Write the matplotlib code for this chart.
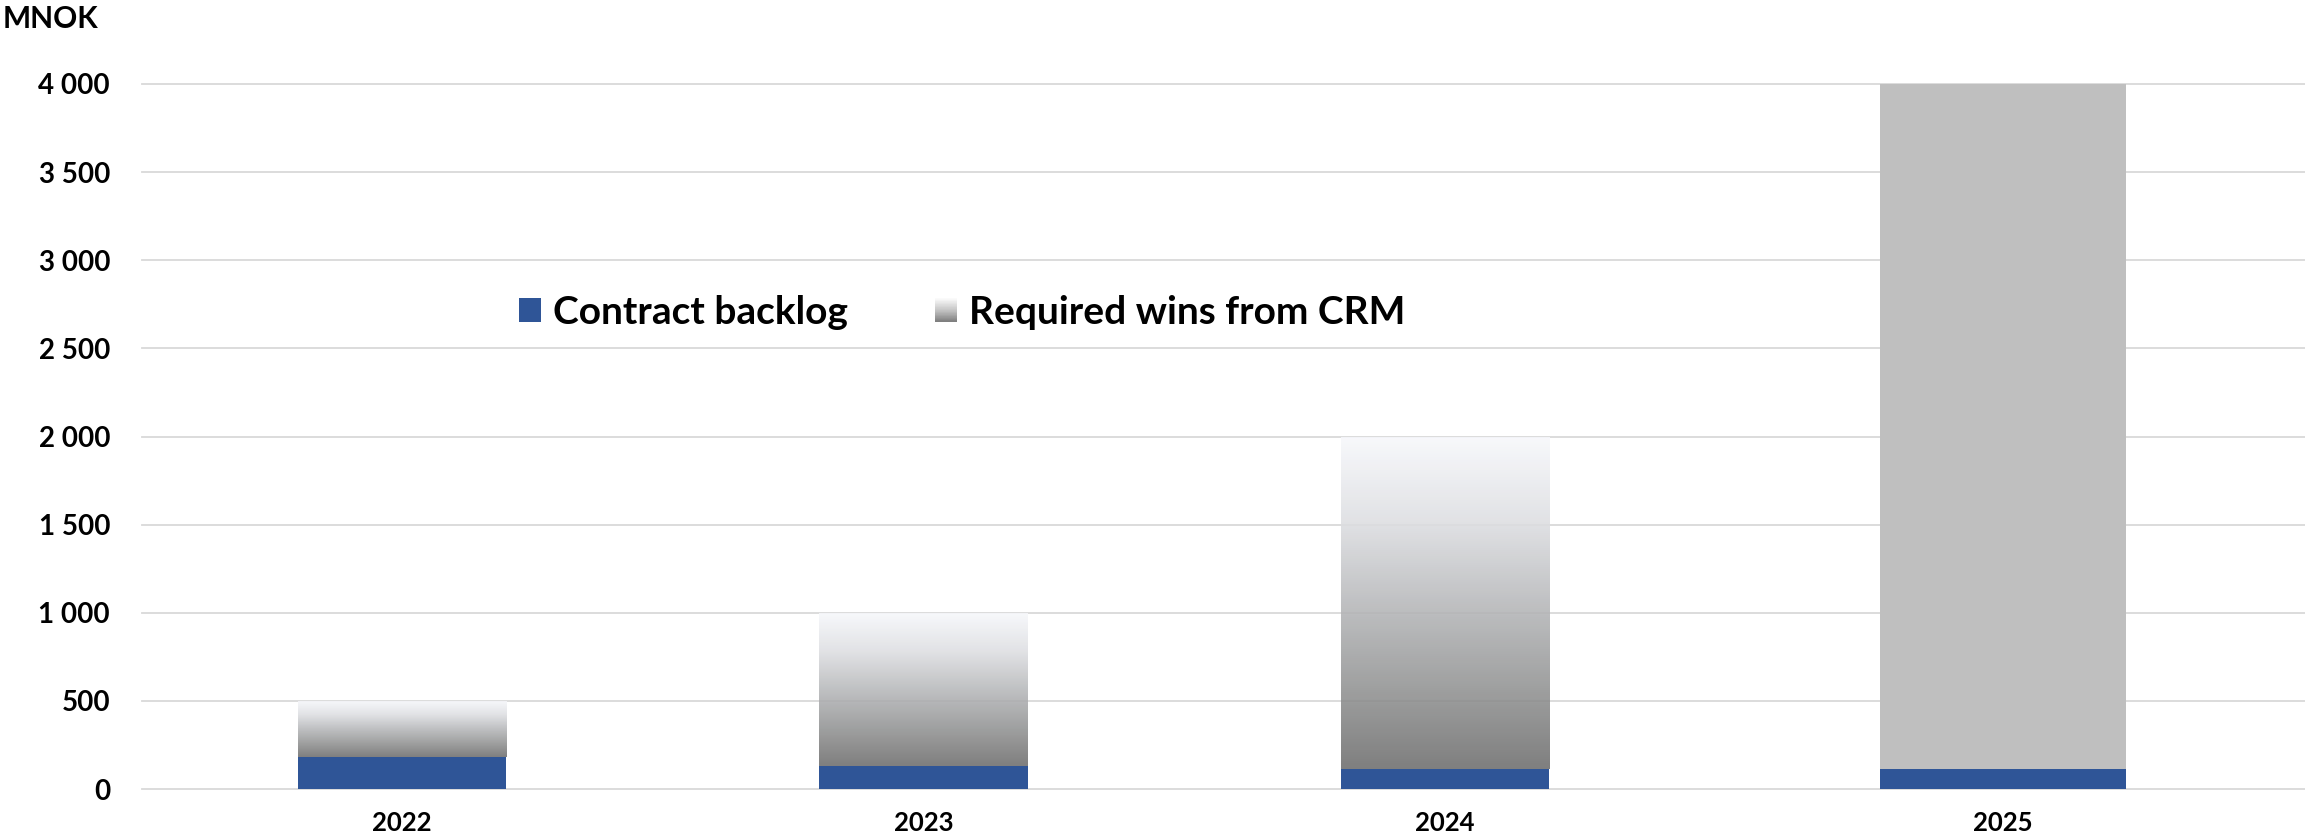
import numpy as np
import matplotlib
matplotlib.use("Agg")
import matplotlib.pyplot as plt
from matplotlib.colors import LinearSegmentedColormap, to_rgb
from matplotlib.patches import Rectangle, Patch
from matplotlib.legend_handler import HandlerBase

# ---------------- data ----------------
years = ["2022", "2023", "2024", "2025"]
contract_backlog = [180, 130, 115, 115]
total_target = [500, 1000, 2000, 4000]
required_wins = [t - b for t, b in zip(total_target, contract_backlog)]
y_ticks = [0, 500, 1000, 1500, 2000, 2500, 3000, 3500, 4000]
y_tick_labels = ["0", "500", "1 000", "1 500", "2 000", "2 500", "3 000", "3 500", "4 000"]
series_names = ["Contract backlog", "Required wins from CRM"]

# ---------------- style ----------------
FONT = "Lato"
BLUE = "#2f5597"
SOLID_GREY = "#bfbfbf"
GRID = "#d9d9d9"
positions = [0, 1, 2, 3.07]
widths = [0.40, 0.40, 0.40, 0.472]
gradient_bar = [True, True, True, False]
ALPHA = 0.88

# gradient colours as seen on white (bottom -> top), pre-compensated for alpha
seen = ["#7f7f7f", "#a0a1a1", "#c0c1c3", "#e2e3e6", "#f8f9fc"]
def comp(c):
    r = np.array(to_rgb(c))
    return tuple(np.clip((r - (1 - ALPHA)) / ALPHA, 0, 1))
grad_cmap = LinearSegmentedColormap.from_list("g", [comp(c) for c in seen])
legend_cmap = LinearSegmentedColormap.from_list("gl", ["#7f7f7f", "#c8c8c8", "#ffffff"])

plt.rcParams["font.family"] = [FONT, "DejaVu Sans"]
plt.rcParams["font.weight"] = "bold"

W, H = 2305, 836
fig = plt.figure(figsize=(W / 100, H / 100), dpi=100)
ax = fig.add_axes([142 / W, 47 / H, 1 - 142 / W, (789 - 84) / H])

# gridlines
for yv in y_ticks:
    ax.axhline(yv, color=GRID, lw=1.3, zorder=0, clip_on=False)

# backlog bars
ax.bar(positions, contract_backlog, width=widths, color=BLUE, zorder=3, linewidth=0)

# required wins bars
fcs = ["none" if g else SOLID_GREY for g in gradient_bar]
bars = ax.bar(positions, required_wins, bottom=contract_backlog, width=widths,
              color=fcs, linewidth=0, zorder=2)
grad = np.linspace(0, 1, 256).reshape(-1, 1)
for b, g in zip(bars, gradient_bar):
    if not g:
        continue
    x0, y0 = b.get_x(), b.get_y()
    im = ax.imshow(grad, cmap=grad_cmap, origin="lower", aspect="auto",
                   extent=[x0, x0 + b.get_width(), y0, y0 + b.get_height()],
                   alpha=ALPHA, zorder=2, interpolation="bilinear")
    im.set_clip_path(b)

ax.set_xlim((142 - 402) / 521.5, (2305 - 402) / 521.5)
ax.set_ylim(0, 4000)

ax.set_yticks(y_ticks)
ax.set_yticklabels(y_tick_labels, fontsize=20, fontweight="bold")
ax.set_xticks(positions)
ax.set_xticklabels(years, fontsize=18.5, fontweight="bold")
ax.tick_params(axis="y", length=0, pad=23)
ax.tick_params(axis="x", length=0, pad=16)
for s in ax.spines.values():
    s.set_visible(False)

fig.text(3 / W, 1 - 19 / H, "MNOK", fontsize=21.5, fontweight="bold", va="center", ha="left")

# legend
class HandlerGradient(HandlerBase):
    def create_artists(self, legend, orig_handle, xdescent, ydescent, width, height, fontsize, trans):
        n = 40
        arts = []
        for k in range(n):
            frac = k / n
            r = Rectangle((-xdescent, -ydescent + height * frac), width, height / n * 1.05,
                          facecolor=legend_cmap(frac), edgecolor="none", transform=trans)
            arts.append(r)
        return arts

LF = 28
fpx = LF * 100 / 72
h1 = Patch(facecolor=BLUE, edgecolor="none", label=series_names[0])
h2 = Patch(facecolor=SOLID_GREY, edgecolor="none", label=series_names[1])
leg = fig.legend(handles=[h1, h2], handler_map={h2: HandlerGradient()},
                 loc="center left", bbox_to_anchor=(519 / W, 1 - 312 / H),
                 ncol=2, frameon=False, borderpad=0, borderaxespad=0,
                 handlelength=22 / fpx, handleheight=22 / fpx,
                 handletextpad=12 / fpx, columnspacing=87 / fpx,
                 prop={"family": FONT, "weight": "bold", "size": LF})

fig.savefig("out.png", dpi=100)
